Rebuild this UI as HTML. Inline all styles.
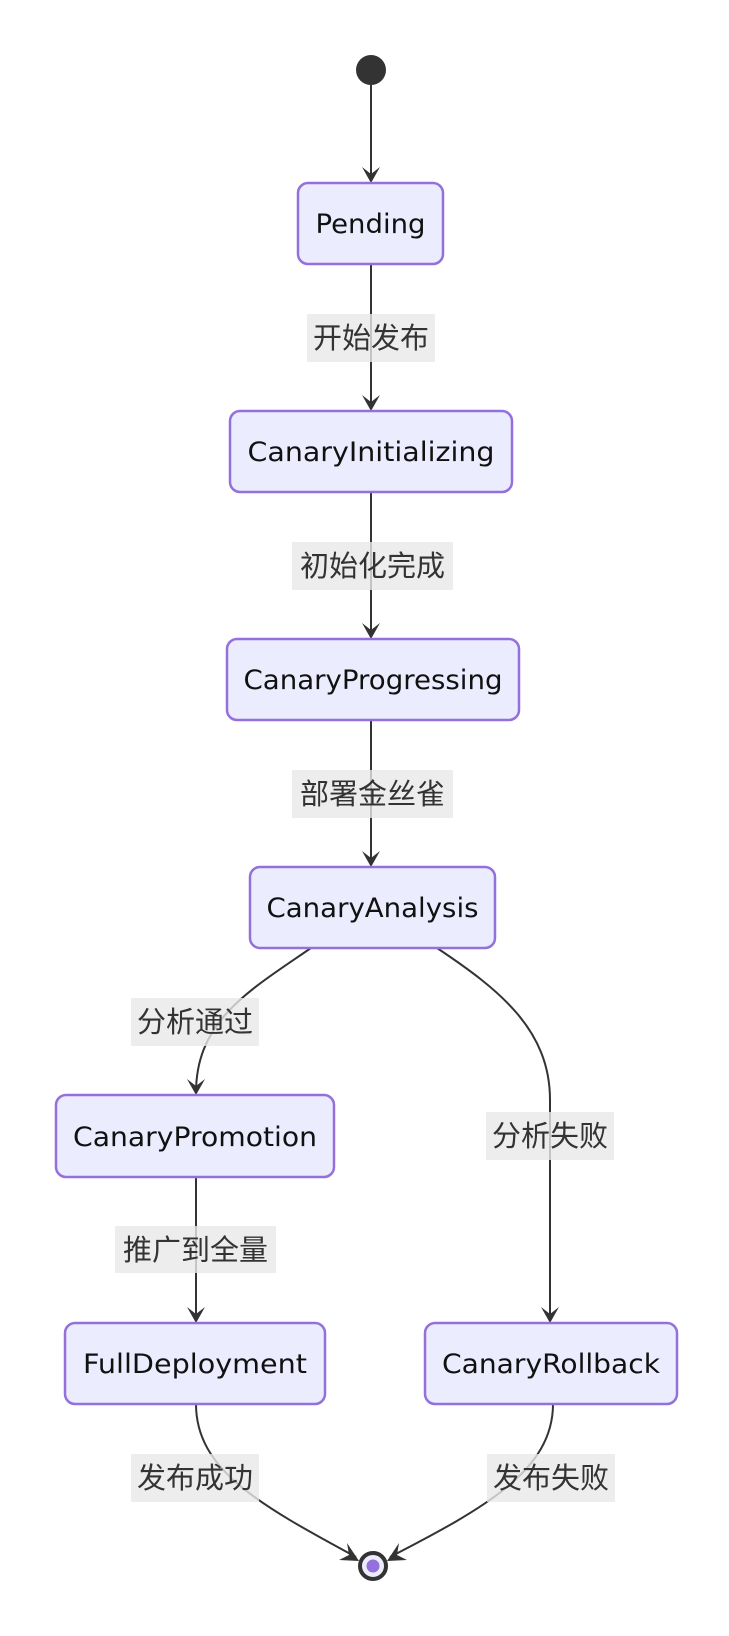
<!DOCTYPE html>
<html><head><meta charset="utf-8"><style>
html,body{margin:0;padding:0;background:#fff;}
svg{display:block;}
.n{fill:#ECECFF;stroke:#9370DB;stroke-width:2.5;}
.t{font-family:"DejaVu Sans","Liberation Sans",sans-serif;font-size:27px;fill:#111;}
.l{fill:rgba(232,232,232,0.8);}
.lt{font-family:"Liberation Sans","Noto Sans CJK SC",sans-serif;font-size:29px;fill:#333;}
.e{fill:none;stroke:#333;stroke-width:2;}
.a{fill:#333;}
</style></head><body>
<svg width="729" height="1636" viewBox="0 0 729 1636" xmlns="http://www.w3.org/2000/svg">
<!-- edges -->
<path class="e" d="M371,85 L371,181"/>
<path class="e" d="M371,264 L371,409"/>
<path class="e" d="M371,492 L371,637"/>
<path class="e" d="M371,720 L371,865"/>
<path class="e" d="M311,948 C250,990 196,1020 196,1093"/>
<path class="e" d="M437,948 C500,990 550,1030 550,1100 L550,1321"/>
<path class="e" d="M196,1177 L196,1321"/>
<path class="e" d="M196,1404 C196,1470 260,1505 356,1557"/>
<path class="e" d="M553,1404 C553,1470 485,1508 390,1557"/>
<!-- arrowheads -->
<path class="a" d="M371,183 L362,167 L371,174 L380,167 Z"/>
<path class="a" d="M371,411 L362,395 L371,402 L380,395 Z"/>
<path class="a" d="M371,639 L362,623 L371,630 L380,623 Z"/>
<path class="a" d="M371,867 L362,851 L371,858 L380,851 Z"/>
<path class="a" d="M196,1095 L187,1079 L196,1086 L205,1079 Z"/>
<path class="a" d="M550,1323 L541,1307 L550,1314 L559,1307 Z"/>
<path class="a" d="M196,1323 L187,1307 L196,1314 L205,1307 Z"/>
<path class="a" d="M359,1561 L339,1560 L349,1555 L347,1543 Z"/>
<path class="a" d="M387,1561 L407,1560 L397,1555 L399,1543 Z"/>
<!-- start/end -->
<circle cx="371" cy="70" r="15" fill="#333"/>
<circle cx="373" cy="1566" r="13" fill="#ECECFF" stroke="#333" stroke-width="4"/>
<circle cx="373" cy="1566" r="6.5" fill="#9370DB"/>
<!-- nodes -->
<rect class="n" x="298" y="183" width="145" height="81" rx="10"/>
<text class="t" x="370.5" y="233" text-anchor="middle" textLength="110" lengthAdjust="spacingAndGlyphs">Pending</text>
<rect class="n" x="230" y="411" width="282" height="81" rx="10"/>
<text class="t" x="371" y="461" text-anchor="middle" textLength="247" lengthAdjust="spacingAndGlyphs">CanaryInitializing</text>
<rect class="n" x="227" y="639" width="292" height="81" rx="10"/>
<text class="t" x="373" y="689" text-anchor="middle" textLength="259" lengthAdjust="spacingAndGlyphs">CanaryProgressing</text>
<rect class="n" x="250" y="867" width="245" height="81" rx="10"/>
<text class="t" x="372.5" y="917" text-anchor="middle" textLength="212" lengthAdjust="spacingAndGlyphs">CanaryAnalysis</text>
<rect class="n" x="56" y="1095" width="278" height="82" rx="10"/>
<text class="t" x="195" y="1146" text-anchor="middle" textLength="244" lengthAdjust="spacingAndGlyphs">CanaryPromotion</text>
<rect class="n" x="65" y="1323" width="260" height="81" rx="10"/>
<text class="t" x="195" y="1373" text-anchor="middle" textLength="224" lengthAdjust="spacingAndGlyphs">FullDeployment</text>
<rect class="n" x="425" y="1323" width="252" height="81" rx="10"/>
<text class="t" x="551" y="1373" text-anchor="middle" textLength="218" lengthAdjust="spacingAndGlyphs">CanaryRollback</text>
<!-- labels -->
<rect class="l" x="307" y="314" width="128" height="48"/>
<text class="lt" x="371" y="348" text-anchor="middle">开始发布</text>
<rect class="l" x="292" y="542" width="161" height="48"/>
<text class="lt" x="372.5" y="576" text-anchor="middle">初始化完成</text>
<rect class="l" x="292" y="770" width="161" height="48"/>
<text class="lt" x="372.5" y="804" text-anchor="middle">部署金丝雀</text>
<rect class="l" x="131" y="998" width="128" height="48"/>
<text class="lt" x="195" y="1032" text-anchor="middle">分析通过</text>
<rect class="l" x="486" y="1112" width="128" height="48"/>
<text class="lt" x="550" y="1146" text-anchor="middle">分析失败</text>
<rect class="l" x="115" y="1226" width="161" height="47"/>
<text class="lt" x="195.5" y="1260" text-anchor="middle">推广到全量</text>
<rect class="l" x="131" y="1454" width="128" height="48"/>
<text class="lt" x="195" y="1488" text-anchor="middle">发布成功</text>
<rect class="l" x="487" y="1454" width="128" height="48"/>
<text class="lt" x="551" y="1488" text-anchor="middle">发布失败</text>
</svg>
</body></html>
